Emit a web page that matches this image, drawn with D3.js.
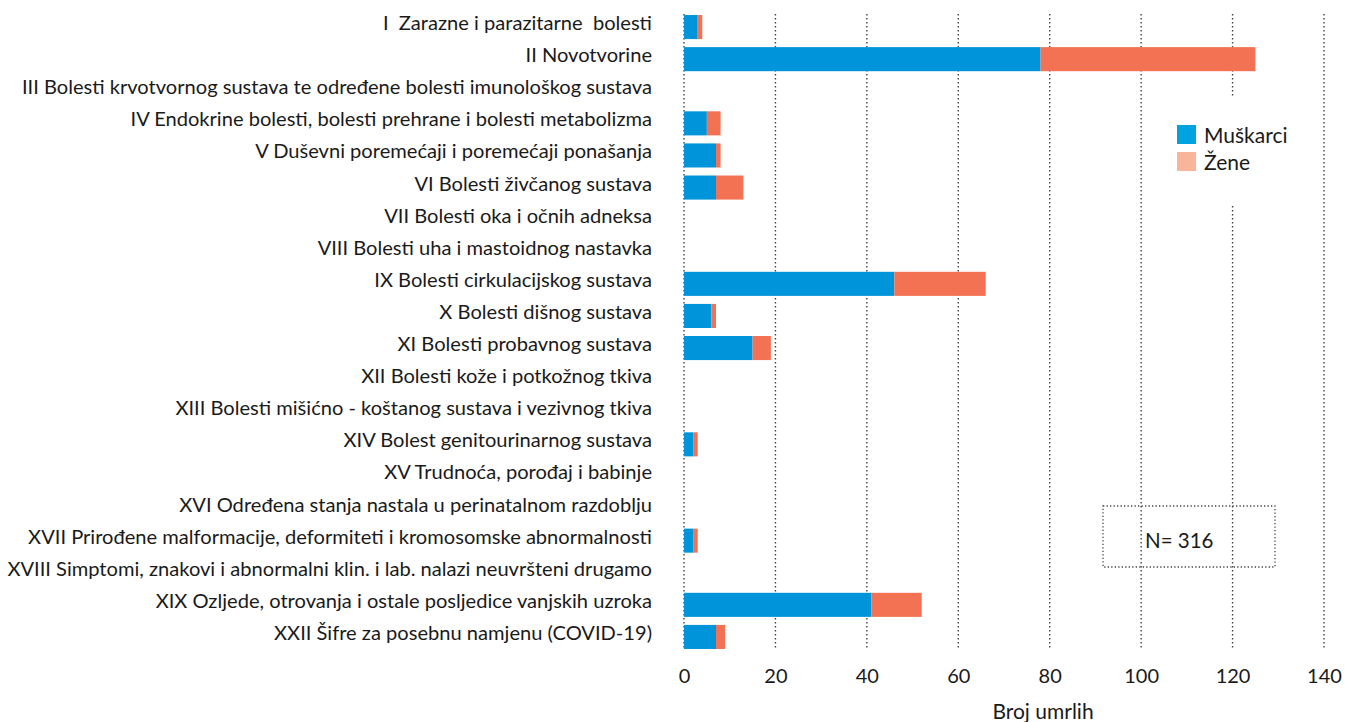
<!DOCTYPE html>
<html><head><meta charset="utf-8">
<script src="https://cdn.jsdelivr.net/npm/d3@7"></script>
<style>body{margin:0;background:#fff}svg{display:block}text{font-family:Lato,"Liberation Sans",sans-serif;fill:#1a1a1a}</style>
</head><body><svg id="c" width="1345" height="722"></svg>
<script>
const categories = [
"I  Zarazne i parazitarne  bolesti",
"II Novotvorine",
"III Bolesti krvotvornog sustava te određene bolesti imunološkog sustava",
"IV Endokrine bolesti, bolesti prehrane i bolesti metabolizma",
"V Duševni poremećaji i poremećaji ponašanja",
"VI Bolesti živčanog sustava",
"VII Bolesti oka i očnih adneksa",
"VIII Bolesti uha i mastoidnog nastavka",
"IX Bolesti cirkulacijskog sustava",
"X Bolesti dišnog sustava",
"XI Bolesti probavnog sustava",
"XII Bolesti kože i potkožnog tkiva",
"XIII Bolesti mišićno - koštanog sustava i vezivnog tkiva",
"XIV Bolest genitourinarnog sustava",
"XV Trudnoća, porođaj i babinje",
"XVI Određena stanja nastala u perinatalnom razdoblju",
"XVII Prirođene malformacije, deformiteti i kromosomske abnormalnosti",
"XVIII Simptomi, znakovi i abnormalni klin. i lab. nalazi neuvršteni drugamo",
"XIX Ozljede, otrovanja i ostale posljedice vanjskih uzroka",
"XXII Šifre za posebnu namjenu (COVID-19)"
];
const muskarci = [3, 78, 0, 5, 7, 7, 0, 0, 46, 6, 15, 0, 0, 2, 0, 0, 2, 0, 41, 7];
const zene     = [1, 47, 0, 3, 1, 6, 0, 0, 20, 1, 4, 0, 0, 1, 0, 0, 1, 0, 11, 2];
const xTicks = [0, 20, 40, 60, 80, 100, 120, 140];
const seriesNames = ["Muškarci", "Žene"];
const totalLabel = "N= 316";
const axisTitle = "Broj umrlih";

const svg = d3.select("#c");
const x = d3.scaleLinear().domain([0, 140]).range([684, 1324]);
const y = d3.scaleBand().domain(categories).range([11, 653]).paddingInner(0.25).paddingOuter(0.125);

// gridlines
svg.append("g").selectAll("line").data(xTicks).join("line")
  .attr("x1", d => x(d)).attr("x2", d => x(d)).attr("y1", 14).attr("y2", 650)
  .attr("stroke", "#444").attr("stroke-width", 1.4).attr("stroke-dasharray", "1.4,2.6");

// legend background (covers gridline)
svg.append("rect").attr("x", 1165).attr("y", 97).attr("width", 135).attr("height", 108).attr("fill", "#fff");

// bars
const g = svg.append("g");
g.selectAll("rect.m").data(categories).join("rect").attr("class", "m")
  .attr("x", x(0)).attr("y", d => y(d)).attr("height", y.bandwidth())
  .attr("width", (d, i) => x(muskarci[i]) - x(0)).attr("fill", "#0095da");
g.selectAll("rect.z").data(categories).join("rect").attr("class", "z")
  .attr("x", (d, i) => x(muskarci[i])).attr("y", d => y(d)).attr("height", y.bandwidth())
  .attr("width", (d, i) => x(muskarci[i] + zene[i]) - x(muskarci[i])).attr("fill", "#f37254");

// category labels
svg.append("g").selectAll("text").data(categories).join("text")
  .attr("x", 652).attr("y", d => y(d) + y.bandwidth() / 2 - 5)
  .attr("text-anchor", "end").attr("dominant-baseline", "central")
  .attr("font-size", 20.1).style("white-space", "pre").text(d => d);

// x axis tick labels
const ax = d3.axisBottom(x).tickValues(xTicks).tickSize(0).tickPadding(0);
const axg = svg.append("g").attr("transform", "translate(0,669)").call(ax);
axg.select(".domain").remove();
axg.selectAll("text").attr("font-size", 20).attr("font-family", "Lato, sans-serif").attr("fill", "#1a1a1a");

svg.append("text").attr("x", 1043).attr("y", 719).attr("text-anchor", "middle").attr("font-size", 21).text(axisTitle);

// legend
const legColors = ["#00a3e0", "#f9b49c"];
seriesNames.forEach((s, i) => {
  svg.append("rect").attr("x", 1177).attr("y", 125 + i * 27).attr("width", 19).attr("height", 19).attr("fill", legColors[i]);
  svg.append("text").attr("x", 1204).attr("y", 134 + i * 27).attr("dominant-baseline", "central").attr("font-size", 21).text(s);
});

// N box
svg.append("rect").attr("x", 1103).attr("y", 506).attr("width", 172).attr("height", 61)
  .attr("fill", "none").attr("stroke", "#444").attr("stroke-width", 1.3).attr("stroke-dasharray", "1.3,2.2");
svg.append("text").attr("x", 1145).attr("y", 540).attr("dominant-baseline", "central").attr("font-size", 20.5)
  .attr("font-family", "'Liberation Sans', Arial, sans-serif").text(totalLabel);
</script></body></html>
